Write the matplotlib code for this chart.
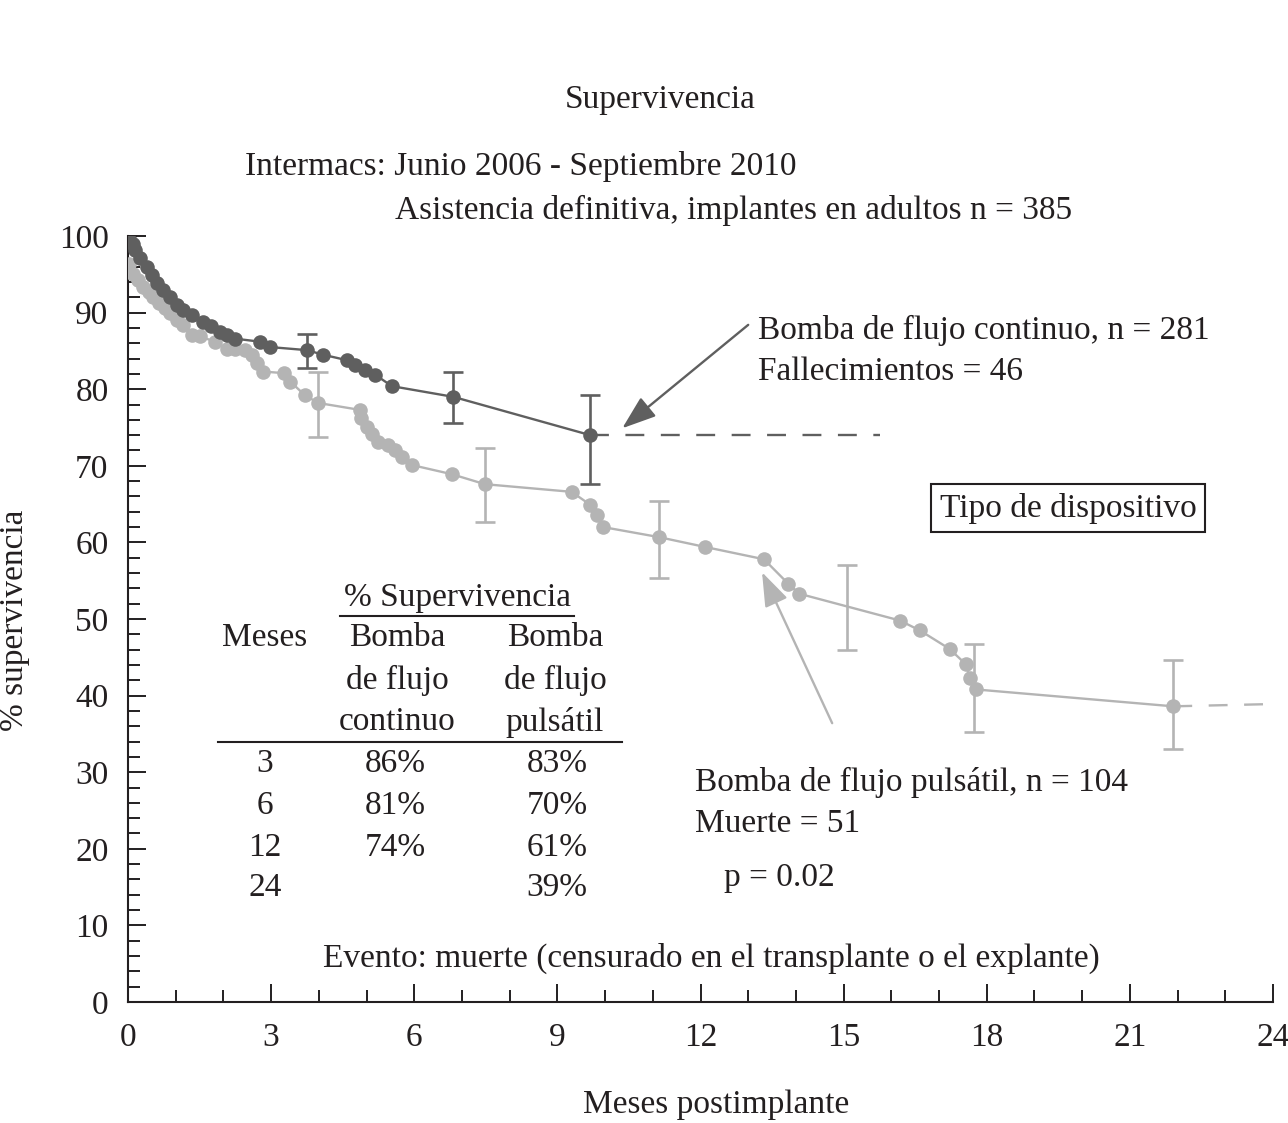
import numpy as np
import matplotlib
matplotlib.use('Agg')
import matplotlib.pyplot as plt
from matplotlib.ticker import MultipleLocator

plt.rcParams['font.family'] = ['Liberation Serif', 'DejaVu Serif']

# Bomba de flujo continuo (Kaplan-Meier)
cont_x = [0.05, 0.11, 0.15, 0.25, 0.39, 0.50, 0.60, 0.74, 0.88, 1.02, 1.16, 1.34,
          1.58, 1.75, 1.93, 2.07, 2.24, 2.77, 2.98, 3.75, 4.09, 4.58, 4.76, 4.97,
          5.18, 5.53, 6.82, 9.69]
cont_y = [99.4, 99.0, 98.2, 97.1, 96.0, 94.9, 93.8, 92.9, 92.1, 91.0, 90.3, 89.7,
          88.8, 88.2, 87.5, 87.1, 86.6, 86.2, 85.5, 85.1, 84.5, 83.8, 83.2, 82.5,
          81.9, 80.4, 79.0, 74.0]
cont_err_x = [3.75, 6.82, 9.69]
cont_err_y = [85.1, 79.0, 74.0]
cont_err_lo = [82.8, 75.6, 67.6]
cont_err_hi = [87.2, 82.2, 79.2]
cont_tail_x = [9.69, 15.77]
cont_tail_y = [74.0, 74.0]

# Bomba de flujo pulsatil
puls_x = [0.02, 0.11, 0.22, 0.32, 0.43, 0.53, 0.64, 0.78, 0.88, 1.02, 1.16, 1.34,
          1.51, 1.82, 2.07, 2.24, 2.45, 2.59, 2.70, 2.84, 3.26, 3.40, 3.71, 3.99,
          4.86, 4.88, 5.00, 5.11, 5.25, 5.46, 5.60, 5.74, 5.95, 6.79, 7.48, 9.30,
          9.69, 9.83, 9.96, 11.12, 12.10, 13.33, 13.84, 14.07, 16.18, 16.60, 17.22,
          17.56, 17.65, 17.78, 21.91]
puls_y = [96.4, 95.1, 94.3, 93.4, 92.7, 92.1, 91.2, 90.6, 89.9, 89.0, 88.4, 87.1,
          86.9, 86.2, 85.3, 85.3, 85.1, 84.5, 83.4, 82.3, 82.1, 81.0, 79.2, 78.2,
          77.3, 76.2, 75.1, 74.2, 73.1, 72.7, 72.1, 71.2, 70.1, 68.9, 67.6, 66.6,
          64.9, 63.6, 62.0, 60.7, 59.4, 57.8, 54.6, 53.3, 49.8, 48.5, 46.1,
          44.1, 42.3, 40.8, 38.6]
puls_err_x = [3.99, 7.48, 11.12, 15.08, 17.74, 21.91]
puls_err_y = [78.2, 67.6, 60.7, 51.5, 41.0, 38.6]
puls_err_lo = [73.8, 62.7, 55.4, 46.0, 35.2, 33.0]
puls_err_hi = [82.3, 72.3, 65.4, 57.0, 46.8, 44.7]
puls_tail_x = [21.91, 24.0]
puls_tail_y = [38.6, 38.9]

# tabla
table_months = ['3', '6', '12', '24']
table_cont = ['86%', '81%', '74%', '']
table_puls = ['83%', '70%', '61%', '39%']

dark = '#5f5f5f'
light = '#b4b4b4'
ink = '#231f20'

W, H = 1288, 1123
fig = plt.figure(figsize=(W / 100, H / 100), dpi=100)
ax = fig.add_axes([128 / W, 1 - 1002 / H, (1273 - 128) / W, (1002 - 236) / H])


def px(x, y):
    return x / W, 1 - y / H


fs = 24

# curves
ax.plot(puls_x, puls_y, color=light, lw=1.7, marker='o', ms=10.5, mec='none', zorder=3)
ax.plot(puls_tail_x, puls_tail_y, color=light, lw=1.7, dashes=(8, 7), zorder=2)
ax.errorbar(puls_err_x, puls_err_y,
            yerr=[np.array(puls_err_y) - np.array(puls_err_lo),
                  np.array(puls_err_hi) - np.array(puls_err_y)],
            fmt='none', ecolor=light, elinewidth=1.9, capsize=7, capthick=1.9, zorder=2)

ax.plot(cont_x, cont_y, color=dark, lw=1.7, marker='o', ms=10.5, mec='none', zorder=4)
ax.plot(cont_tail_x, cont_tail_y, color=dark, lw=1.7, dashes=(8, 7), zorder=2)
ax.errorbar(cont_err_x, cont_err_y,
            yerr=[np.array(cont_err_y) - np.array(cont_err_lo),
                  np.array(cont_err_hi) - np.array(cont_err_y)],
            fmt='none', ecolor=dark, elinewidth=1.9, capsize=7, capthick=1.9, zorder=4)

# axes
ax.set_xlim(0, 24)
ax.set_ylim(0, 100)
ax.spines['top'].set_visible(False)
ax.spines['right'].set_visible(False)
for s in ('left', 'bottom'):
    ax.spines[s].set_linewidth(1.5)
    ax.spines[s].set_color(ink)
ax.xaxis.set_major_locator(MultipleLocator(3))
ax.xaxis.set_minor_locator(MultipleLocator(1))
ax.yaxis.set_major_locator(MultipleLocator(10))
ax.yaxis.set_minor_locator(MultipleLocator(2))
ax.tick_params(which='major', direction='in', length=13, width=1.4, color=ink,
               labelsize=fs, labelcolor=ink)
ax.tick_params(axis='y', which='major', pad=14)
ax.tick_params(axis='x', which='major', pad=15)
ax.tick_params(which='minor', direction='in', length=8.5, width=1.4, color=ink)
ax.set_xlabel('Meses postimplante', fontsize=fs, color=ink, va='center')
ax.xaxis.set_label_coords((716 - 128) / (1273 - 128), -(1105 - 1002) / (1002 - 236))
ax.set_ylabel('% supervivencia', fontsize=fs, color=ink, va='center')
ax.yaxis.set_label_coords(-(128 - 15) / (1273 - 128), (1002 - 620) / (1002 - 236))

# titles
fig.text(*px(660, 100), 'Supervivencia', fontsize=fs, color=ink, ha='center', va='center')
fig.text(*px(245, 167), 'Intermacs: Junio 2006 - Septiembre 2010', fontsize=fs,
         color=ink, ha='left', va='center')
fig.text(*px(395, 210), 'Asistencia definitiva, implantes en adultos n = 385',
         fontsize=fs, color=ink, ha='left', va='center')

# annotations
fig.text(*px(758, 330), 'Bomba de flujo continuo, n = 281', fontsize=fs, color=ink,
         ha='left', va='center')
fig.text(*px(758, 372), 'Fallecimientos = 46', fontsize=fs, color=ink, ha='left', va='center')
ax.annotate('', xy=(10.36, 74.9), xytext=(13.0, 88.4),
            arrowprops=dict(arrowstyle='-|>,head_length=0.7,head_width=0.25', color=dark,
                            lw=1.7, mutation_scale=30, shrinkA=0, shrinkB=0))

fig.text(*px(695, 782), 'Bomba de flujo pulsátil, n = 104', fontsize=fs, color=ink,
         ha='left', va='center')
fig.text(*px(695, 824), 'Muerte = 51', fontsize=fs, color=ink, ha='left', va='center')
fig.text(*px(724, 878), 'p = 0.02', fontsize=fs, color=ink, ha='left', va='center')
ax.annotate('', xy=(13.29, 56.1), xytext=(14.76, 36.4),
            arrowprops=dict(arrowstyle='-|>,head_length=0.7,head_width=0.25', color=light,
                            lw=1.7, mutation_scale=30, shrinkA=0, shrinkB=0))

fig.text(*px(1068, 508), 'Tipo de dispositivo', fontsize=fs, color=ink, ha='center',
         va='center', bbox=dict(boxstyle='square,pad=0.25', fc='white', ec=ink, lw=1.5))

fig.text(*px(711, 958), 'Evento: muerte (censurado en el transplante o el explante)',
         fontsize=fs, color=ink, ha='center', va='center')

# table
fig.text(*px(457, 598), '% Supervivencia', fontsize=fs, color=ink, ha='center', va='center')
fig.add_artist(plt.Line2D([340 / W, 574 / W], [1 - 616 / H, 1 - 616 / H], color=ink, lw=1.5))
fig.text(*px(265, 638), 'Meses', fontsize=fs, color=ink, ha='center', va='center')
for i, w in enumerate(['Bomba', 'de flujo', 'continuo']):
    fig.text(*px(397, 638 + 42 * i), w, fontsize=fs, color=ink, ha='center', va='center')
for i, w in enumerate(['Bomba', 'de flujo', 'pulsátil']):
    fig.text(*px(555, 638 + 42 * i), w, fontsize=fs, color=ink, ha='center', va='center')
fig.add_artist(plt.Line2D([218 / W, 622 / W], [1 - 742 / H, 1 - 742 / H], color=ink, lw=1.5))
row_y = [764, 806, 848, 888]
for m, c, p, ry in zip(table_months, table_cont, table_puls, row_y):
    fig.text(*px(265, ry), m, fontsize=fs, color=ink, ha='center', va='center')
    fig.text(*px(395, ry), c, fontsize=fs, color=ink, ha='center', va='center')
    fig.text(*px(557, ry), p, fontsize=fs, color=ink, ha='center', va='center')

fig.savefig('out.png', dpi=100, facecolor='white')
